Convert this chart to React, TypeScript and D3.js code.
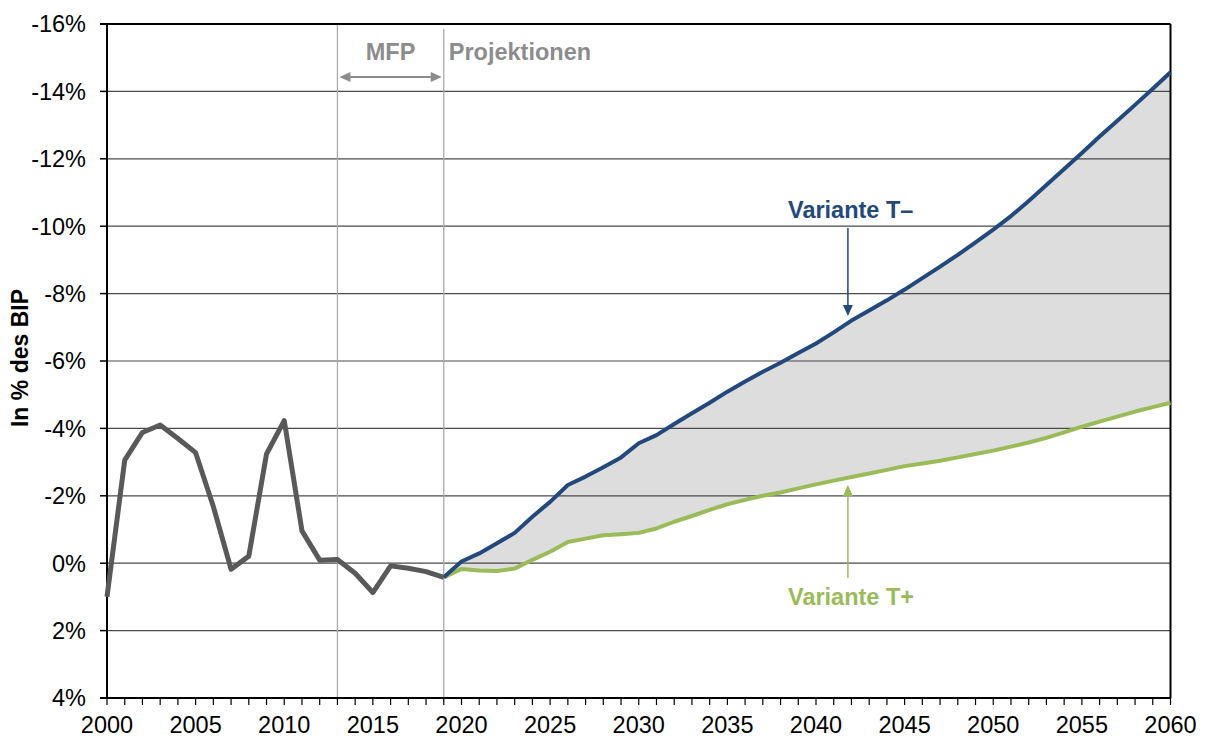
import React from "react";
import * as d3 from "d3";

const histYears = d3.range(2000, 2020);
const histValues = [1.0, -3.06, -3.88, -4.1, -3.7, -3.28, -1.68, 0.18, -0.21, -3.24, -4.23, -0.96, -0.09, -0.11, 0.3, 0.87, 0.08, 0.15, 0.25, 0.42];

const projYears = d3.range(2019, 2061);
const tMinus = [0.42, -0.05, -0.29, -0.59, -0.9, -1.38, -1.82, -2.32, -2.57, -2.85, -3.14, -3.56, -3.8, -4.13, -4.45, -4.76, -5.09, -5.39, -5.68, -5.95, -6.24, -6.52, -6.85, -7.2, -7.5, -7.8, -8.12, -8.46, -8.8, -9.15, -9.52, -9.9, -10.3, -10.75, -11.22, -11.7, -12.17, -12.66, -13.13, -13.6, -14.08, -14.57];
const tPlus = [0.42, 0.17, 0.22, 0.23, 0.16, -0.1, -0.34, -0.63, -0.73, -0.83, -0.86, -0.9, -1.03, -1.23, -1.4, -1.58, -1.75, -1.88, -2.0, -2.1, -2.22, -2.34, -2.45, -2.56, -2.66, -2.77, -2.88, -2.96, -3.04, -3.14, -3.24, -3.34, -3.46, -3.58, -3.72, -3.88, -4.05, -4.2, -4.35, -4.5, -4.63, -4.76];

const yTicks = [-16, -14, -12, -10, -8, -6, -4, -2, 0, 2, 4];
const xLabelYears = [2000, 2005, 2010, 2015, 2020, 2025, 2030, 2035, 2040, 2045, 2050, 2055, 2060];
const markerYears = [2013, 2019];

const W = 1207, H = 738;
const x = d3.scaleLinear().domain([2000, 2060]).range([107, 1170.5]);
const y = d3.scaleLinear().domain([-16, 4]).range([24, 698]);

const BLUE = "#23497C";
const GREEN = "#9BBB59";
const HIST = "#595959";
const GRAY_TXT = "#8C8C8C";
const FONT = "'Liberation Sans', Arial, sans-serif";
const FS = 23.5;

export default function App() {
  const lineGen = d3.line<[number, number]>().x(d => x(d[0])).y(d => y(d[1]));
  const histPts: [number, number][] = histYears.map((yr, i) => [yr, histValues[i]]);
  const minusPts: [number, number][] = projYears.map((yr, i) => [yr, tMinus[i]]);
  const plusPts: [number, number][] = projYears.map((yr, i) => [yr, tPlus[i]]);
  const area = d3.area<number>()
    .x((_, i) => x(projYears[i]))
    .y0((_, i) => y(tPlus[i]))
    .y1((_, i) => y(tMinus[i]));

  const x0 = x(2000), x1 = x(2060);
  const yTop = y(-16), yBot = y(4);
  const arrowX = x(2041.8);

  return (
    <div style={{ position: "fixed", left: 0, top: 0 }}>
      <svg width={W} height={H} style={{ display: "block", background: "#fff" }} fontFamily={FONT}>
        <path d={area(projYears) || ""} fill="#DDDDDD" />
        {yTicks.slice(1, -1).map(v => (
          <line key={v} x1={x0} x2={x1} y1={y(v)} y2={y(v)} stroke="#4a4a4a" strokeWidth={1.2} />
        ))}
        {markerYears.map((yr, i) => (
          <line key={yr} x1={x(yr)} x2={x(yr)} y1={i === 0 ? yTop : yTop + 5} y2={yBot} stroke="#ABABAB" strokeWidth={1.3} />
        ))}
        {/* frame */}
        <line x1={x0 - 7} x2={x1} y1={yTop} y2={yTop} stroke="#000" strokeWidth={2} />
        <line x1={x0} x2={x0} y1={yTop} y2={yBot} stroke="#000" strokeWidth={2} />
        <line x1={x1} x2={x1} y1={yTop} y2={yBot} stroke="#000" strokeWidth={2} />
        <line x1={x0 - 7} x2={x1} y1={yBot} y2={yBot} stroke="#000" strokeWidth={2} />
        {yTicks.map(v => (
          <g key={v}>
            <line x1={x0 - 7} x2={x0} y1={y(v)} y2={y(v)} stroke="#000" strokeWidth={1.5} />
            <text x={86} y={y(v)} dy="0.36em" textAnchor="end" fontSize={FS} fill="#000">{`${v}%`}</text>
          </g>
        ))}
        {d3.range(2000, 2061).map(yr => (
          <line key={yr} x1={x(yr)} x2={x(yr)} y1={yBot} y2={yBot + 7} stroke="#000" strokeWidth={1.2} />
        ))}
        {xLabelYears.map(yr => (
          <text key={yr} x={x(yr)} y={733} textAnchor="middle" fontSize={FS} fill="#000">{yr}</text>
        ))}
        <text transform={`translate(28,358) rotate(-90)`} textAnchor="middle" fontSize={FS - 0.5} fontWeight="bold" fill="#000">In % des BIP</text>

        {/* series */}
        <path d={lineGen(plusPts) || ""} fill="none" stroke={GREEN} strokeWidth={4} strokeLinejoin="round" />
        <path d={lineGen(minusPts) || ""} fill="none" stroke={BLUE} strokeWidth={4} strokeLinejoin="round" />
        <path d={lineGen(histPts) || ""} fill="none" stroke={HIST} strokeWidth={5} strokeLinejoin="round" />

        {/* MFP annotation */}
        <text x={(x(2013) + x(2019)) / 2} y={60} textAnchor="middle" fontSize={FS} fontWeight="bold" fill={GRAY_TXT}>MFP</text>
        <line x1={x(2013) + 10} x2={x(2019) - 10} y1={77} y2={77} stroke={GRAY_TXT} strokeWidth={2} />
        <path d={`M${x(2013) + 2},77 l11,-5 v10 z`} fill={GRAY_TXT} />
        <path d={`M${x(2019) - 2},77 l-11,-5 v10 z`} fill={GRAY_TXT} />
        <text x={x(2019) + 5} y={60} fontSize={FS} fontWeight="bold" fill={GRAY_TXT}>Projektionen</text>

        {/* Variante labels */}
        <text x={788} y={218} fontSize={FS} fontWeight="bold" fill={BLUE}>Variante T–</text>
        <line x1={arrowX} x2={arrowX} y1={228} y2={306} stroke={BLUE} strokeWidth={1.5} />
        <path d={`M${arrowX},316 l-5,-11 h10 z`} fill={BLUE} />
        <text x={788} y={605} fontSize={FS} fontWeight="bold" fill={GREEN}>Variante T+</text>
        <line x1={arrowX} x2={arrowX} y1={578} y2={495} stroke={GREEN} strokeWidth={1.5} />
        <path d={`M${arrowX},485 l-5,11 h10 z`} fill={GREEN} />
      </svg>
    </div>
  );
}
